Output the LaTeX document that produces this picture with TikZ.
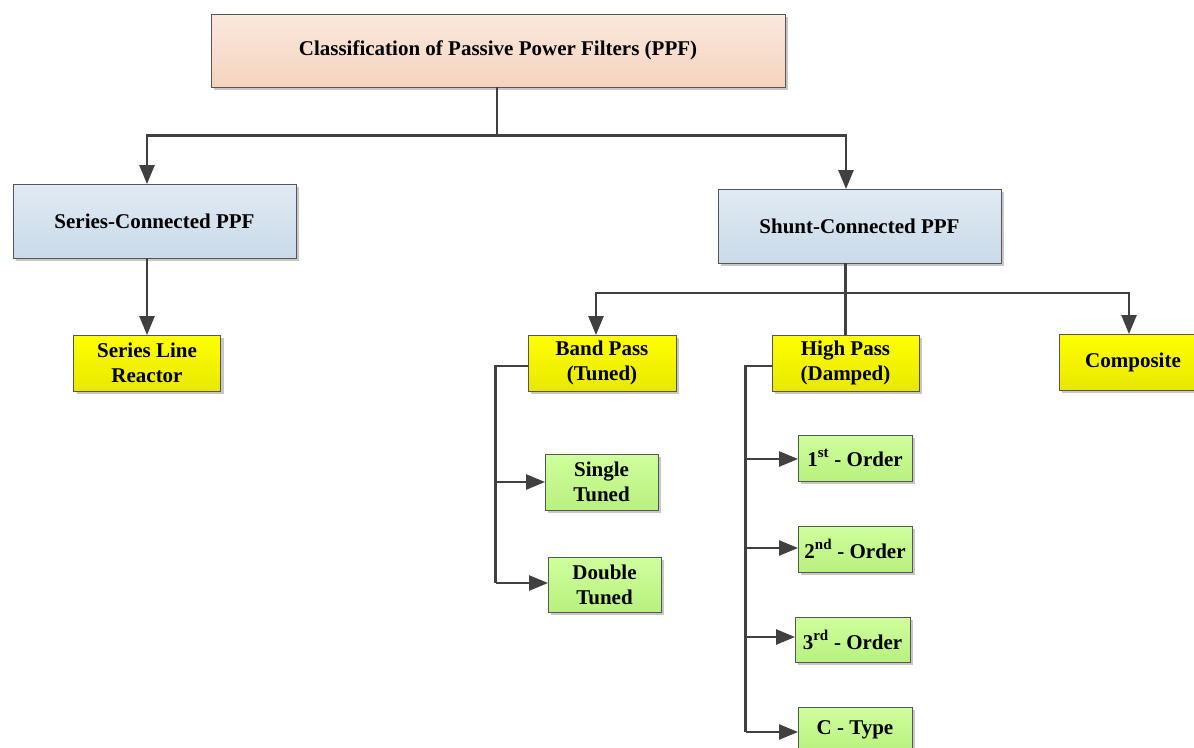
\documentclass[tikz,border=0pt]{standalone}
\usepackage{fontspec}
\setmainfont{Liberation Serif}
\usetikzlibrary{arrows.meta,shadows,positioning}

\definecolor{linegray}{HTML}{404040}
\definecolor{edgegray}{HTML}{555555}
\definecolor{peachtop}{HTML}{FAE9DE}
\definecolor{peachbot}{HTML}{F5D3BE}
\definecolor{bluetop}{HTML}{E1EAF3}
\definecolor{bluebot}{HTML}{C9DAE9}
\definecolor{yeltop}{HTML}{FFFF00}
\definecolor{yelbot}{HTML}{E8E800}
\definecolor{grntop}{HTML}{CFFF9E}
\definecolor{grnbot}{HTML}{B9F07E}

\tikzset{
  card/.style={draw=edgegray, line width=0.9pt, inner sep=0pt, align=center,
    font=\fontsize{21}{25}\selectfont\bfseries,
    drop shadow={shadow xshift=3pt, shadow yshift=-3pt, fill=black, opacity=0.22}},
  rootbox/.style={card, top color=peachtop, bottom color=peachbot},
  groupbox/.style={card, top color=bluetop, bottom color=bluebot},
  typebox/.style={card, top color=yeltop, bottom color=yelbot},
  leafbox/.style={card, top color=grntop, bottom color=grnbot},
  wire/.style={draw=linegray, line width=2.5pt},
  feed/.style={wire, -{Triangle[length=19pt,width=15pt]}, shorten >=-0.5pt},
}
\newcommand{\ordsup}[1]{\raisebox{0.15ex}{\textsuperscript{\fontsize{15}{15}\selectfont #1}}}

\begin{document}
\begin{tikzpicture}[x=1pt, y=-1pt]
\useasboundingbox (0,0) rectangle (1194,747);

% main heading
\node[rootbox, minimum width=574pt, minimum height=73pt] (root) at (498,50.5)
  {Classification of Passive Power Filters (PPF)};

% connection groups
\node[groupbox, minimum width=283pt, minimum height=74pt] (series) at (154.5,221) {Series-Connected PPF};
\node[groupbox, minimum width=283pt, minimum height=74pt] (shunt) at (859.5,226) {Shunt-Connected PPF};

% filter types
\node[typebox, minimum width=147pt, minimum height=56pt] (reactor) at (147,363) {Series Line\\Reactor};
\node[typebox, minimum width=148pt, minimum height=56pt] (band) at (602,363) {Band Pass\\(Tuned)};
\node[typebox, minimum width=147pt, minimum height=56pt] (high) at (845.5,363) {High Pass\\(Damped)};
\node[typebox, minimum width=148pt, minimum height=56pt] (composite) at (1133,362) {Composite};

% tuned filters
\node[leafbox, minimum width=113pt, minimum height=56pt] (single) at (601.5,482) {Single\\Tuned};
\node[leafbox, minimum width=113pt, minimum height=55pt] (double) at (604.5,584.5) {Double\\Tuned};

% damped filters
\node[leafbox, minimum width=114pt, minimum height=46pt] (first) at (855,458) {1\ordsup{st} - Order};
\node[leafbox, minimum width=114pt, minimum height=46pt] (second) at (855,549) {2\ordsup{nd} - Order};
\node[leafbox, minimum width=115pt, minimum height=45pt] (third) at (852.5,639.5) {3\ordsup{rd} - Order};
\node[leafbox, minimum width=114pt, minimum height=46pt] (ctype) at (855,730) {C - Type};

% heading to groups
\draw[wire] ([xshift=-1pt]root.south) -- ++(0,48) coordinate (topbus);
\draw[feed] (topbus) -| (reactor.north |- series.north);
\draw[feed] (topbus) -| ([xshift=-13.5pt]shunt.north);

% series branch
\draw[feed] (reactor.north |- series.south) -- (reactor.north);

% shunt branch
\draw[wire] (high.north |- shunt.south) -- (high.north);
\coordinate (shuntbus) at (high.north |- 0,293);
\draw[feed] (shuntbus) -| ([xshift=-6pt]band.north);
\draw[feed] (shuntbus) -| ([xshift=-4pt]composite.north);

% band-pass subtree
\draw[wire] ([yshift=-3pt]band.west) -- ++(-32,0) coordinate (btrunk) -- (btrunk |- 0,583);
\draw[feed] (btrunk |- single.west) -- (single.west);
\draw[feed] (btrunk |- 0,583) -- (double.west |- 0,583);

% high-pass subtree
\draw[wire] ([yshift=-3pt]high.west) -- ++(-26,0) coordinate (htrunk) -- (htrunk |- 0,732);
\draw[feed] (htrunk |- 0,459) -- (first.west |- 0,459);
\draw[feed] (htrunk |- 0,548) -- (second.west |- 0,548);
\draw[feed] (htrunk |- 0,637) -- (third.west |- 0,637);
\draw[feed] (htrunk |- 0,732) -- (ctype.west |- 0,732);
\end{tikzpicture}
\end{document}
